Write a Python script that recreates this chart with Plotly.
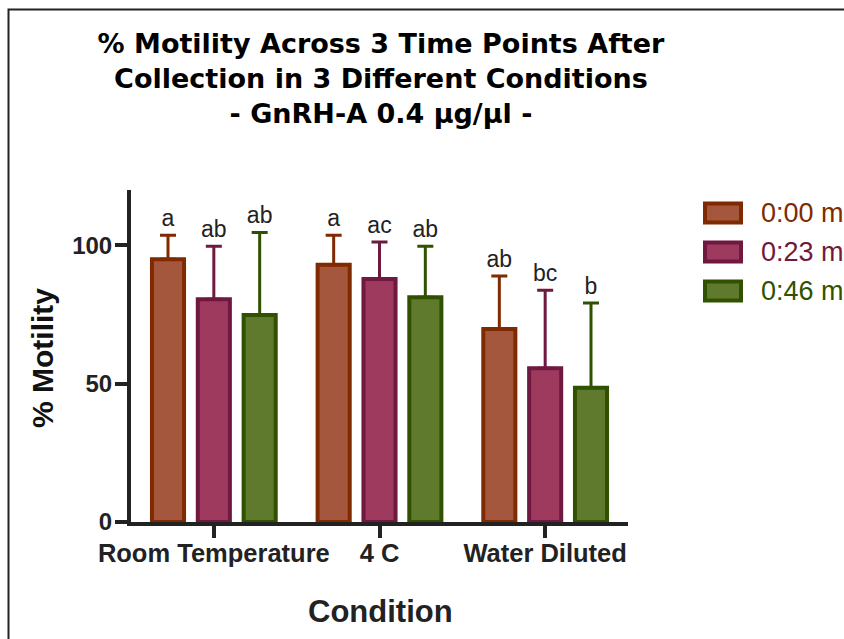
import plotly.graph_objects as go

categories = ["Room Temperature", "4 C", "Water Diluted"]
series_names = ["0:00 m", "0:23 m", "0:46 m"]
means = [
    [95.0, 93.0, 69.8],
    [80.5, 87.8, 55.6],
    [74.8, 81.2, 48.5],
]
sds = [
    [8.6, 10.6, 19.1],
    [19.2, 13.4, 28.2],
    [29.8, 18.5, 30.7],
]
letters = [
    ["a", "a", "ab"],
    ["ab", "ac", "bc"],
    ["ab", "ab", "b"],
]
y_ticks = [0, 50, 100]

fill_colors = ["#A5573D", "#9E3A5E", "#5F7A2C"]
edge_colors = ["#7F2A00", "#6F1840", "#305200"]

W, H = 844, 639
# plot area in window pixels: x 131..628, y 190..522
ML, MR = 131, W - 628
MT, MB = 190, H - 522
PW, PH = W - ML - MR, H - MT - MB

def px_x(p):  # window pixel -> paper
    return (p - ML) / PW

def px_y(p):
    return (H - MB - p) / PH

BARGAP = 0.17
fig = go.Figure()
for i, name in enumerate(series_names):
    fig.add_trace(go.Bar(
        x=categories, y=means[i], name=name,
        offsetgroup=str(i), alignmentgroup="a",
        marker=dict(color=fill_colors[i], line=dict(color=edge_colors[i], width=4)),
        error_y=dict(type="data", array=sds[i], arrayminus=[0] * len(sds[i]),
                     symmetric=False, color=edge_colors[i], thickness=3, width=8),
        showlegend=False,
    ))
for i, name in enumerate(series_names):
    tops = [m + s for m, s in zip(means[i], sds[i])]
    fig.add_trace(go.Scatter(
        x=categories, y=tops, mode="markers+text", text=letters[i],
        marker=dict(size=4, color="rgba(0,0,0,0)"),
        textposition="top center", offsetgroup=str(i), alignmentgroup="a",
        textfont=dict(family="Liberation Sans, Arial", size=23, color="#222222"),
        showlegend=False, hoverinfo="skip", cliponaxis=False,
    ))

shapes = []
annotations = []
# outer frame
shapes.append(dict(type="rect", xref="paper", yref="paper",
                   x0=px_x(8.5), x1=px_x(900), y0=px_y(700), y1=px_y(9.5),
                   line=dict(color="#222222", width=2), fillcolor="rgba(0,0,0,0)", layer="below"))
# manual legend
leg_y = [213, 252, 291]
for i, name in enumerate(series_names):
    shapes.append(dict(type="rect", xref="paper", yref="paper",
                       x0=px_x(705), x1=px_x(741), y0=px_y(leg_y[i] + 9.5), y1=px_y(leg_y[i] - 9.5),
                       line=dict(color=edge_colors[i], width=4), fillcolor=fill_colors[i]))
    annotations.append(dict(text=name, xref="paper", yref="paper", x=px_x(759), y=px_y(leg_y[i]),
                            xanchor="left", yanchor="middle", showarrow=False,
                            font=dict(family="Liberation Sans, Arial", size=27, color=edge_colors[i])))
# axis titles
annotations.append(dict(text="<b>% Motility</b>", xref="paper", yref="paper", x=px_x(42), y=px_y(358),
                        xanchor="center", yanchor="middle", textangle=-90, showarrow=False,
                        font=dict(family="Liberation Sans, Arial", size=30, color="#111111")))
annotations.append(dict(text="<b>Condition</b>", xref="paper", yref="paper", x=px_x(380), y=px_y(611),
                        xanchor="center", yanchor="middle", showarrow=False,
                        font=dict(family="Liberation Sans, Arial", size=31, color="#222222")))

fig.update_layout(
    width=W, height=H,
    margin=dict(l=ML, r=MR, t=MT, b=MB, pad=0),
    paper_bgcolor="white", plot_bgcolor="white",
    barmode="group", bargap=BARGAP, bargroupgap=0.3,
    scattermode="group", scattergap=BARGAP,
    showlegend=False,
    title=dict(text="<b>% Motility Across 3 Time Points After<br>Collection in 3 Different Conditions<br>- GnRH-A 0.4 µg/µl -</b>",
               x=px_x(381), xref="paper", xanchor="center",
               y=1 - 53 / H, yref="container", yanchor="top",
               font=dict(family="DejaVu Sans", size=27, color="#000000")),
    xaxis=dict(type="category", range=[-0.5, 2.5], showline=True, linecolor="#222222", linewidth=4,
               ticks="outside", ticklen=12, tickwidth=4, tickcolor="#222222", ticklabelstandoff=-7,
               tickfont=dict(family="Liberation Sans, Arial", size=25.5, color="#222222", weight="bold"),
               showgrid=False, zeroline=False, fixedrange=True),
    yaxis=dict(range=[0, 120], tickvals=y_ticks, showline=True, linecolor="#222222", linewidth=4,
               ticks="outside", ticklen=12, tickwidth=4, tickcolor="#222222", ticklabelstandoff=-2,
               tickfont=dict(family="Liberation Sans, Arial", size=24, color="#222222", weight="bold"),
               showgrid=False, zeroline=False, fixedrange=True),
    shapes=shapes, annotations=annotations,
)

fig.write_html("out.html", config={"displayModeBar": False},
               post_script="document.body.style.margin='0';document.body.style.overflow='hidden';")
